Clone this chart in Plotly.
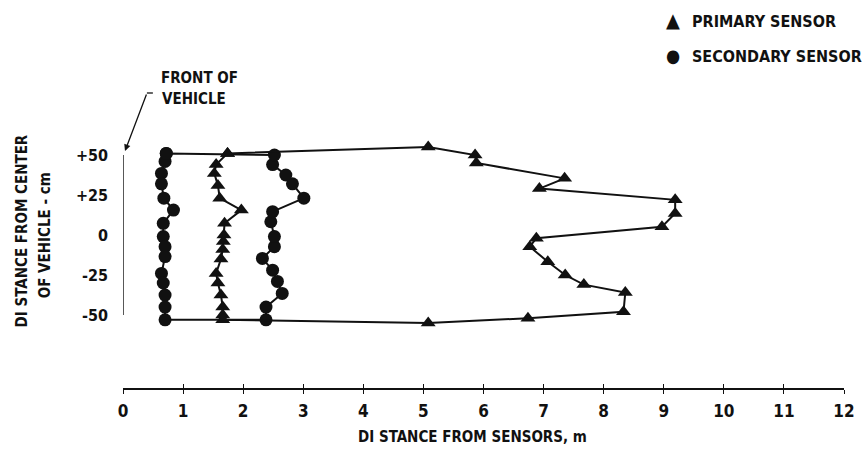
import plotly.graph_objects as go

# ---- data ----
# Secondary sensor: inner boundary (near the vehicle) and outer boundary, m vs cm
sec_inner_x = [0.72, 0.70, 0.64, 0.64, 0.68, 0.84, 0.67, 0.67, 0.70, 0.70, 0.64, 0.67, 0.70, 0.70, 0.70]
sec_inner_y = [51, 46, 38.5, 32, 23, 15.6, 7.3, -1, -7.3, -13.5, -24, -30, -37.5, -45, -53]
sec_outer_x = [2.52, 2.49, 2.71, 2.82, 3.01, 2.49, 2.46, 2.52, 2.52, 2.32, 2.49, 2.57, 2.65, 2.38, 2.38]
sec_outer_y = [50, 44, 37.5, 32, 23, 14.6, 8.3, -1, -7.3, -14.6, -22, -29, -36.5, -45, -53]

# Primary sensor: inner boundary (top to bottom) and outer boundary (bottom to top)
pri_inner_x = [1.74, 1.55, 1.52, 1.58, 1.61, 1.97, 1.69, 1.68, 1.67, 1.66, 1.63, 1.55, 1.58, 1.63, 1.66, 1.66, 1.66]
pri_inner_y = [51, 44, 38.5, 31, 23, 15.6, 7.3, 0, -4, -9, -15, -24, -30, -37.5, -45, -50, -53]
pri_outer_x = [5.08, 6.74, 8.33, 8.36, 7.67, 7.36, 7.07, 6.77, 6.88, 8.97, 9.19, 9.19, 6.93, 7.35, 5.88, 5.86, 5.08]
pri_outer_y = [-55, -52, -48, -36, -31, -25, -16.7, -7.3, -2, 5.2, 13.5, 22, 29, 35.4, 45, 50, 55]

x_ticks = list(range(0, 13))
y_ticks = [50, 25, 0, -25, -50]
y_ticktext = ["+50", "+25", "0", "-25", "-50"]

# closed loops built from the boundaries
sec_x = sec_inner_x + sec_outer_x[::-1] + [sec_inner_x[0]]
sec_y = sec_inner_y + sec_outer_y[::-1] + [sec_inner_y[0]]
pri_x = pri_inner_x + pri_outer_x + [pri_inner_x[0]]
pri_y = pri_inner_y + pri_outer_y + [pri_inner_y[0]]

INK = "#111111"
FONT = "DejaVu Sans Condensed, Liberation Sans Narrow, Roboto, sans-serif"

W, H = 867, 452
L, R, T, B = 123, 20, 139, 64
PW, PH = W - L - R, H - T - B


def px(x):
    return (x - L) / PW


def py(y):
    return (H - B - y) / PH


fig = go.Figure()
fig.add_trace(go.Scatter(
    x=sec_x, y=sec_y, mode="lines+markers",
    line=dict(color=INK, width=2),
    marker=dict(symbol="circle", size=13, color=INK),
    cliponaxis=False, showlegend=False, name="SECONDARY SENSOR"))
fig.add_trace(go.Scatter(
    x=pri_x, y=pri_y, mode="lines+markers",
    line=dict(color=INK, width=2),
    marker=dict(symbol="triangle-up", size=13, color=INK),
    cliponaxis=False, showlegend=False, name="PRIMARY SENSOR"))
# helper trace so the overlaid tick axis is drawn
fig.add_trace(go.Scatter(x=[None], y=[None], xaxis="x2", showlegend=False))

fig.update_layout(
    width=W, height=H,
    margin=dict(l=L, r=R, t=T, b=B),
    paper_bgcolor="white", plot_bgcolor="white",
    font=dict(family=FONT, color=INK),
    xaxis=dict(range=[0, 12], tickvals=x_ticks, ticks="outside", ticklen=4, tickwidth=1.3,
               tickcolor=INK, showline=True, linecolor=INK, linewidth=1.6,
               showgrid=False, zeroline=False, ticklabelstandoff=3,
               tickfont=dict(size=17, family=FONT, color=INK, weight="bold")),
    xaxis2=dict(range=[0, 12], overlaying="x", anchor="y", side="bottom",
                tickvals=x_ticks, ticks="inside", ticklen=4, tickwidth=1.3, tickcolor=INK,
                showticklabels=False, showline=False, showgrid=False, zeroline=False),
    yaxis=dict(range=[-95.6, 60], tickvals=y_ticks, ticktext=y_ticktext, ticks="",
               showline=False, showgrid=False, zeroline=False, ticklabelstandoff=14,
               tickfont=dict(size=16, family=FONT, color=INK, weight="bold")),
    shapes=[
        # front-of-vehicle reference line at x = 0
        dict(type="line", xref="x", yref="y", x0=0, x1=0, y0=50, y1=-50,
             line=dict(color=INK, width=1.4)),
        # leader hook
        dict(type="line", xref="paper", yref="paper", x0=px(147), x1=px(153), y0=py(93), y1=py(93),
             line=dict(color=INK, width=1.3)),
    ],
    annotations=[
        dict(xref="paper", yref="paper", x=px(125), y=py(151), ax=22, ay=-58, text="",
             showarrow=True, arrowhead=2, arrowsize=1, arrowwidth=1.3, arrowcolor=INK),
        dict(xref="paper", yref="paper", x=px(159), y=py(78), text="FRONT OF", showarrow=False,
             xanchor="left", yanchor="middle", font=dict(size=15, weight="bold")),
        dict(xref="paper", yref="paper", x=px(160), y=py(99), text="VEHICLE", showarrow=False,
             xanchor="left", yanchor="middle", font=dict(size=15, weight="bold")),
        # axis titles
        dict(xref="paper", yref="paper", x=px(474), y=py(437), text="DI STANCE FROM SENSORS, m",
             showarrow=False, xanchor="center", yanchor="middle", font=dict(size=15, weight="bold")),
        dict(xref="paper", yref="paper", x=px(22), y=py(231), text="DI STANCE FROM CENTER",
             showarrow=False, textangle=-90, xanchor="center", yanchor="middle",
             font=dict(size=15, weight="bold")),
        dict(xref="paper", yref="paper", x=px(45), y=py(235), text="OF VEHICLE - cm",
             showarrow=False, textangle=-90, xanchor="center", yanchor="middle",
             font=dict(size=15, weight="bold")),
        # legend
        dict(xref="paper", yref="paper", x=px(675), y=py(20), text="▲", showarrow=False,
             xanchor="center", yanchor="middle", font=dict(size=20)),
        dict(xref="paper", yref="paper", x=px(692), y=py(22), text="PRIMARY SENSOR", showarrow=False,
             xanchor="left", yanchor="middle", font=dict(size=16, weight="bold")),
        dict(xref="paper", yref="paper", x=px(675), y=py(55), text="●", showarrow=False,
             xanchor="center", yanchor="middle", font=dict(size=18)),
        dict(xref="paper", yref="paper", x=px(692), y=py(56), text="SECONDARY SENSOR", showarrow=False,
             xanchor="left", yanchor="middle", font=dict(size=16, weight="bold")),
    ],
)

fig.write_html("out.html")
